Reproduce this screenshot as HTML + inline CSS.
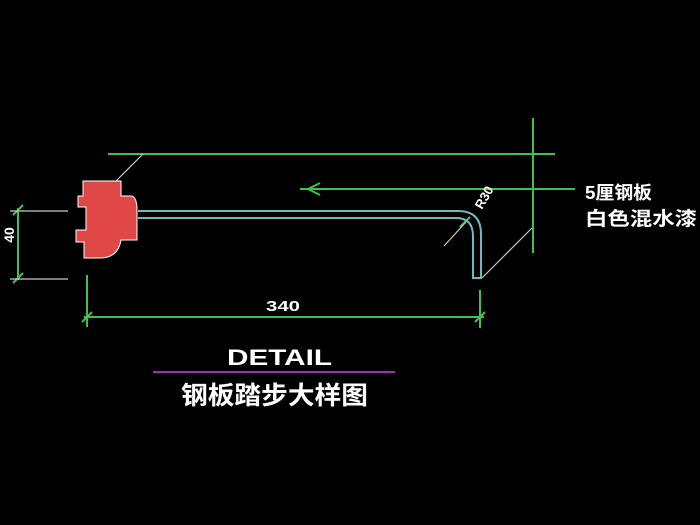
<!DOCTYPE html>
<html><head><meta charset="utf-8"><style>
html,body{margin:0;padding:0;background:#000;width:700px;height:525px;overflow:hidden}
svg{display:block}
text{font-family:"Liberation Sans","Noto Sans CJK SC",sans-serif;font-weight:bold;fill:#fff}
</style></head><body>
<svg width="700" height="525" viewBox="0 0 700 525">
<g stroke="#3fc24a" stroke-width="2" fill="none">
<line x1="108" y1="154" x2="555" y2="154"/>
<line x1="533" y1="118" x2="533" y2="253"/>
<line x1="300" y1="189" x2="575" y2="189"/>
<polyline points="320,183 308,189 320,195"/>
<line x1="18" y1="208" x2="18" y2="280"/>
<line x1="87" y1="275" x2="87" y2="327"/>
<line x1="480" y1="290" x2="480" y2="328"/>
<line x1="84" y1="317" x2="484" y2="317"/>
<line x1="82" y1="322" x2="92" y2="312"/>
<line x1="475" y1="322" x2="485" y2="312"/>
<line x1="13" y1="215" x2="23" y2="205"/>
<line x1="13" y1="283" x2="23" y2="273"/>
<line x1="460" y1="227" x2="470" y2="217"/>
</g>
<g stroke="#c8c8c8" stroke-width="1.2" fill="none">
<line x1="10" y1="211" x2="68" y2="211"/>
<line x1="10" y1="279" x2="68" y2="279"/>
<line x1="143" y1="154" x2="115" y2="182"/>
<line x1="482" y1="278" x2="532" y2="228"/>
<line x1="444" y1="246" x2="466" y2="222"/>
</g>
<g stroke="#6fb9c0" stroke-width="2" fill="none">
<path d="M138 211 H458 Q481 211 481 234 V278 H473 V236 Q473 218 456 218 H138"/>
</g>
<line x1="153" y1="372" x2="395" y2="372" stroke="#a030b0" stroke-width="2"/>
<path d="M83 181 H121 V196 H132 Q137 198 137 210 V240 H121 Q118 258 100 258 H84 V242 H76 V230 H86 V207 H78 V196 H83 Z" fill="#e04848" stroke="#fff" stroke-width="1"/>
<text x="266" y="311" font-size="15" textLength="34" lengthAdjust="spacingAndGlyphs">340</text>
<text x="0" y="0" font-size="14" transform="translate(14,235) rotate(-90)" text-anchor="middle">40</text>
<text x="0" y="0" font-size="13" transform="translate(482,210) rotate(-60)">R30</text>
<text x="227" y="365" font-size="22" textLength="105" lengthAdjust="spacingAndGlyphs">DETAIL</text>
<text x="181" y="404" font-size="25" textLength="187" lengthAdjust="spacingAndGlyphs">钢板踏步大样图</text>
<text x="585" y="199" font-size="18" textLength="67" lengthAdjust="spacingAndGlyphs">5厘钢板</text>
<text x="585" y="225" font-size="19" textLength="112" lengthAdjust="spacingAndGlyphs">白色混水漆</text>
</svg>
</body></html>
